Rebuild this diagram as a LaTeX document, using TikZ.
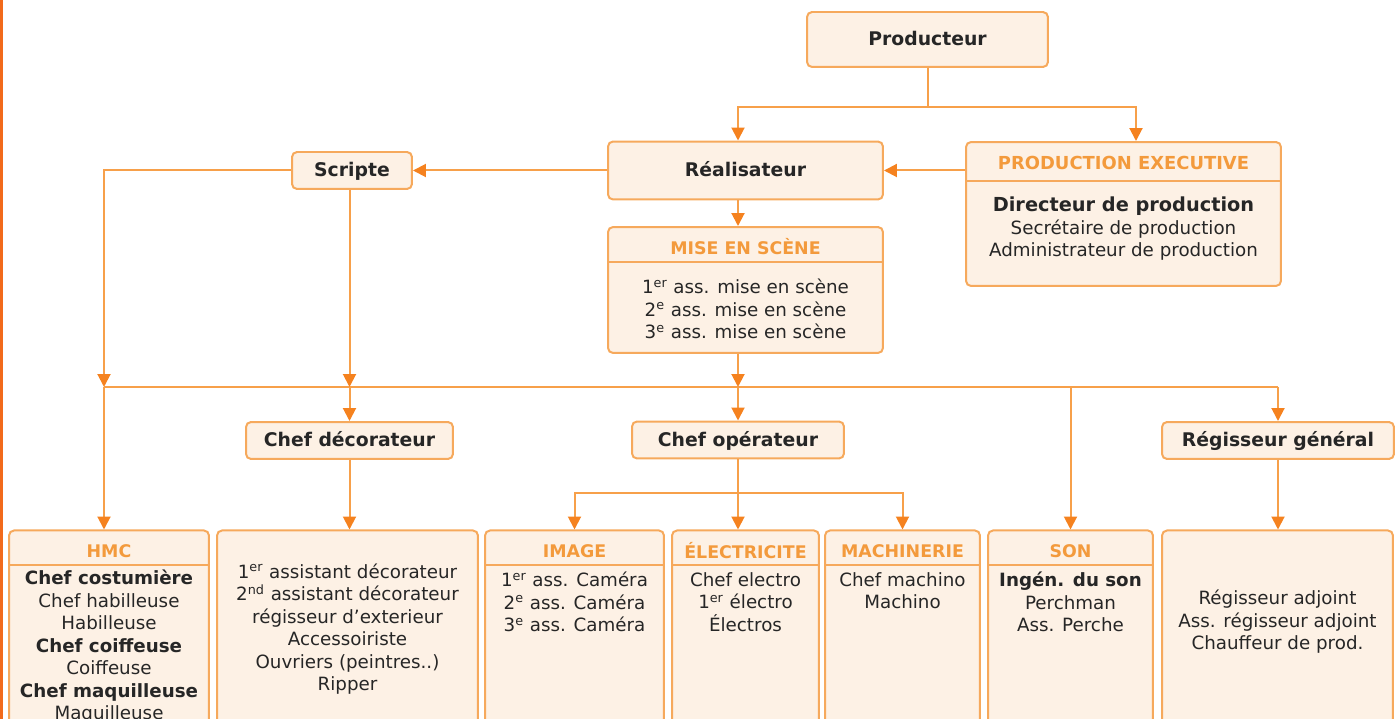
\documentclass[tikz,border=0pt]{standalone}
\usepackage{fontspec}
\setmainfont{DejaVu Sans}
\usetikzlibrary{arrows.meta}
\definecolor{boxline}{HTML}{F6A95C}
\definecolor{boxfill}{HTML}{FDF1E5}
\definecolor{linecol}{HTML}{F7A04A}
\definecolor{tipcol}{HTML}{F5821F}
\definecolor{titlecol}{HTML}{F39A3C}
\definecolor{txt}{HTML}{262626}
\definecolor{strip}{HTML}{F26A1B}

\begin{document}
\begin{tikzpicture}[x=0.02cm,y=-0.02cm,
    line/.style={draw=linecol,line width=0.04cm},
    arr/.style={line,-{Triangle[length=0.26cm,width=0.26cm,color=tipcol]}},
    box/.style={draw=boxline,fill=boxfill,line width=0.04cm,rounded corners=0.1cm,inner sep=0pt},
    head/.style={box,text=txt,text height=0.95em,text depth=0.22em,font=\bfseries\fontsize{10.7}{12}\selectfont},
    panel/.style={box,anchor=north,minimum height=4.6cm},
    title/.style={text=titlecol,font=\bfseries\fontsize{9.9}{11}\selectfont},
    body/.style={text=txt,align=center,inner sep=0pt,font=\fontsize{10.4}{12.8}\selectfont}]
    \useasboundingbox (0,0) rectangle (1397,719);
    \clip (0,0) rectangle (1397,719);
    \fill[strip] (0,0) rectangle (3,719);

    % top of the chart
    \node[head,minimum width=4.82cm,minimum height=1.1cm] (prod) at (927.5,39.5) {Producteur};
    \node[head,minimum width=5.5cm,minimum height=1.16cm] (real) at (745.5,170.5) {Réalisateur};
    \node[head,minimum width=2.4cm,minimum height=0.74cm] (scr) at (352,170.5) {Scripte};

    \node[box,minimum width=6.3cm,minimum height=2.88cm] (pe) at (1123.5,214) {};
    \node[title,font=\bfseries\fontsize{10.2}{11}\selectfont] (petitle) at (1123.5,163) {PRODUCTION EXECUTIVE};
    \draw[line,draw=boxline] (pe.west |- 0,181) -- (pe.east |- 0,181);
    \node[body] (pebody) at (1123.5,229) {{\bfseries\fontsize{11}{12.8}\selectfont Directeur de production}\\Secrétaire de production\\Administrateur de production};

    \node[box,minimum width=5.5cm,minimum height=2.52cm] (mes) at (745.5,290) {};
    \node[title] (mestitle) at (745.5,246.5) {MISE EN SCÈNE};
    \draw[line,draw=boxline] (mes.west |- 0,262) -- (mes.east |- 0,262);
    \node[body] (mesbody) at (745.5,309) {1\textsuperscript{er} ass. mise en scène\\2\textsuperscript{e} ass. mise en scène\\3\textsuperscript{e} ass. mise en scène};

    % chefs
    \node[head,minimum width=4.14cm,minimum height=0.74cm] (deco) at (349.5,440.5) {Chef décorateur};
    \node[head,minimum width=4.24cm,minimum height=0.74cm] (op) at (738,440) {Chef opérateur};
    \node[head,minimum width=4.64cm,minimum height=0.74cm] (reg) at (1278,440.5) {Régisseur général};

    % bottom panels
    \node[panel,minimum width=4cm] (hmc) at (109,529.5) {};
    \node[panel,minimum width=5.22cm] (decob) at (347.5,529.5) {};
    \node[panel,minimum width=3.58cm] (img) at (574.5,529.5) {};
    \node[panel,minimum width=2.94cm] (elec) at (745.5,529.5) {};
    \node[panel,minimum width=3.1cm] (mach) at (902.5,529.5) {};
    \node[panel,minimum width=3.3cm] (son) at (1070.5,529.5) {};
    \node[panel,minimum width=4.62cm] (regb) at (1277.5,529.5) {};

    \foreach \p in {hmc,img,elec,mach,son}
        \draw[line,draw=boxline] (\p.west |- 0,565) -- (\p.east |- 0,565);

    \node[title] at (109,551) {HMC};
    \node[title] at (574.5,551) {IMAGE};
    \node[title] at (745.5,551) {ÉLECTRICITE};
    \node[title] at (902.5,551) {MACHINERIE};
    \node[title] at (1070.5,551) {SON};

    \node[body] (hmcbody) at (109,647) {\textbf{Chef costumière}\\Chef habilleuse\\Habilleuse\\\textbf{Chef coiffeuse}\\Coiffeuse\\\textbf{Chef maquilleuse}\\Maquilleuse};
    \node[body] (decobody) at (347.5,629) {1\textsuperscript{er} assistant décorateur\\2\textsuperscript{nd} assistant décorateur\\régisseur d'exterieur\\Accessoiriste\\Ouvriers (peintres..)\\Ripper};
    \node[body] (imgbody) at (574.5,602) {1\textsuperscript{er} ass. Caméra\\2\textsuperscript{e} ass. Caméra\\3\textsuperscript{e} ass. Caméra};
    \node[body] (elecbody) at (745.5,602) {Chef electro\\1\textsuperscript{er} électro\\Électros};
    \node[body] (machbody) at (902.5,590.5) {Chef machino\\Machino};
    \node[body] (sonbody) at (1070.5,602) {\textbf{Ingén. du son}\\Perchman\\Ass. Perche};
    \node[body] (regbody) at (1277.5,622) {Régisseur adjoint\\Ass. régisseur adjoint\\Chauffeur de prod.};

    % connectors
    \coordinate (fork) at (0,107);
    \coordinate (bus) at (0,387);
    \coordinate (opfork) at (0,493);
    \coordinate (lcol) at (104,0);

    \draw[line] (prod.south) -- (prod.south |- fork);
    \draw[arr] (prod.south |- fork) -| (real.north -| op);
    \draw[arr] (prod.south |- fork) -| ([xshift=0.25cm]pe.north);
    \draw[arr] (pe.west |- real) -- (real.east);
    \draw[arr] (real.west) -- (scr.east);
    \draw[arr] (real.south -| op) -- (mes.north -| op);

    \draw[line] (bus -| lcol) -- (bus -| reg);
    \draw[arr] (scr.west) -| (bus -| lcol);
    \draw[arr] (scr.south -| deco) -- (bus -| deco);
    \draw[arr] (mes.south -| op) -- (bus -| op);

    \draw[arr] (bus -| lcol) -- (lcol |- hmc.north);
    \draw[arr] (bus -| deco) -- (deco.north);
    \draw[arr] (bus -| op) -- (op.north);
    \draw[arr] (bus -| son) -- (son.north);
    \draw[arr] (bus -| reg) -- (reg.north);

    \draw[arr] (deco.south) -- (deco.south |- decob.north);
    \draw[arr] (op.south) -- (op.south |- elec.north);
    \draw[arr] (op.south |- opfork) -| (img.north);
    \draw[arr] (op.south |- opfork) -| (mach.north);
    \draw[arr] (reg.south) -- (reg.south |- regb.north);
\end{tikzpicture}
\end{document}
